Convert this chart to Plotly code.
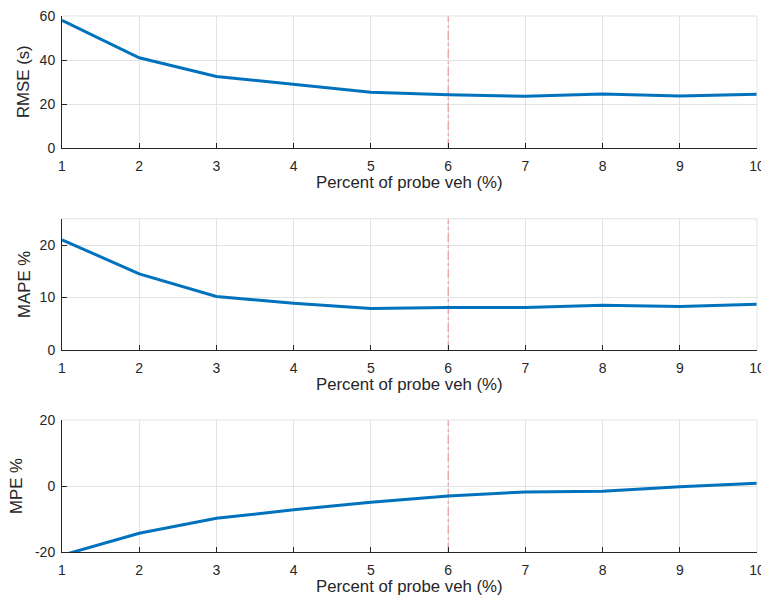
import plotly.graph_objects as go

percent = [1, 2, 3, 4, 5, 6, 7, 8, 9, 10]
rmse = [58.0, 41.0, 32.5, 29.0, 25.3, 24.2, 23.5, 24.6, 23.6, 24.4]
mape = [21.0, 14.5, 10.2, 8.9, 7.9, 8.1, 8.1, 8.5, 8.3, 8.7]
mpe = [-21.0, -14.3, -9.8, -7.2, -4.9, -3.0, -1.8, -1.6, -0.2, 0.8]
marker_x = 6
ylabels = ["RMSE (s)", "MAPE %", "MPE %"]
xlabel = "Percent of probe veh (%)"
yranges = [[0, 60], [0, 25], [-20, 20]]
yticks = [[0, 20, 40, 60], [0, 10, 20], [-20, 0, 20]]
yticktext = [["0", "20", "40", "60"], ["0", "10", "20"], ["-20", "0", "20"]]

# page body has an 8px margin; work in window pixels and convert
OFF = 8
W = 769 - OFF
H = 607 - 2 * OFF


def fx(p):
    return (p - OFF) / W


def fy(p):
    return 1 - (p - OFF) / H


px = [(16, 148), (218.75, 350), (420, 552)]
ylab_x = [24, 24.5, 17]
xdom = [fx(62), fx(757)]

fig = go.Figure()
series = [rmse, mape, mpe]
for i, ys in enumerate(series):
    n = i + 1
    xr = "x" if n == 1 else f"x{n}"
    yr = "y" if n == 1 else f"y{n}"
    fig.add_trace(go.Scatter(x=[marker_x, marker_x], y=yranges[i], mode="lines",
                             line=dict(color="rgba(255,70,70,0.6)", width=1, dash="dashdot"),
                             xaxis=xr, yaxis=yr, showlegend=False, hoverinfo="skip"))
    fig.add_trace(go.Scatter(x=percent, y=ys, mode="lines",
                             line=dict(color="#0072BD", width=3),
                             xaxis=xr, yaxis=yr, showlegend=False))

fam = "Liberation Sans, Arial, Helvetica, sans-serif"
tickfont = dict(family=fam, size=14, color="#262626")
labfont = dict(family=fam, size=16.8, color="#262626")
layout = dict(paper_bgcolor="white", plot_bgcolor="white", width=W, height=H,
              margin=dict(l=0, r=0, t=0, b=0), font=tickfont)
annotations = []
shapes = []
for i in range(3):
    n = i + 1
    top, bot = px[i]
    ydom = [fy(bot), fy(top)]
    xa = dict(domain=xdom, range=[1, 10], tickvals=percent, showgrid=True,
              gridcolor="#e3e3e3", gridwidth=1, zeroline=False, showline=True,
              linecolor="#262626", linewidth=1, ticks="inside", ticklen=5,
              tickcolor="#262626", mirror=False, automargin=False,
              ticklabelstandoff=5, ticklabeloverflow="allow",
              anchor="y" if n == 1 else f"y{n}", tickfont=tickfont)
    ya = dict(domain=ydom, range=yranges[i], tickvals=yticks[i], ticktext=yticktext[i],
              showgrid=True,
              gridcolor="#e3e3e3", gridwidth=1, zeroline=False, showline=True,
              linecolor="#262626", linewidth=1, ticks="inside", ticklen=5,
              tickcolor="#262626", automargin=False, ticklabelstandoff=3,
              ticklabeloverflow="allow",
              anchor="x" if n == 1 else f"x{n}", tickfont=tickfont)
    layout["xaxis" if n == 1 else f"xaxis{n}"] = xa
    layout["yaxis" if n == 1 else f"yaxis{n}"] = ya
    annotations.append(dict(text=xlabel, x=(xdom[0] + xdom[1]) / 2, y=fy(bot + 34),
                            xref="paper", yref="paper", showarrow=False,
                            font=labfont, xanchor="center", yanchor="middle"))
    annotations.append(dict(text=ylabels[i], x=fx(ylab_x[i]), y=fy((top + bot) / 2),
                            xref="paper", yref="paper", showarrow=False, textangle=-90,
                            font=labfont, xanchor="center", yanchor="middle"))
    shapes.append(dict(type="line", xref="paper", yref="paper", x0=xdom[0], x1=xdom[1],
                       y0=fy(top), y1=fy(top), line=dict(color="#e3e3e3", width=1)))
    shapes.append(dict(type="line", xref="paper", yref="paper", x0=xdom[1], x1=xdom[1],
                       y0=fy(bot), y1=fy(top), line=dict(color="#e3e3e3", width=1)))
layout["annotations"] = annotations
layout["shapes"] = shapes
fig.update_layout(**layout)
fig.write_html("out.html")
